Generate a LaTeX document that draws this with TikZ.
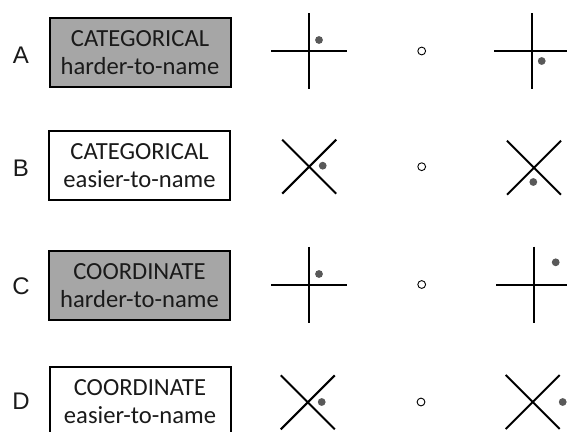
\documentclass[tikz,border=0pt]{standalone}
\usepackage{fontspec}
\setmainfont{Carlito}
\newfontfamily\letterfont{Liberation Sans}
\definecolor{boxgray}{HTML}{A6A6A6}
\definecolor{dotgray}{HTML}{595959}
\definecolor{inkc}{HTML}{1A1A1A}
\tikzset{
  rowletter/.style={font=\letterfont\fontsize{24}{28}\selectfont, inner sep=0pt, text=inkc},
  catbox/.style={draw=black, line width=2pt, minimum width=181pt, minimum height=69pt,
    inner sep=0pt, align=center, text=inkc, font=\fontsize{24.6}{30}\selectfont},
  hardbox/.style={catbox, fill=boxgray},
  easybox/.style={catbox, fill=white},
  crossline/.style={line width=2pt, black},
  gdot/.style={fill=dotgray},
  hollow/.style={draw=black, line width=0.9pt, fill=white}
}
\begin{document}
\begin{tikzpicture}[x=1pt, y=-1pt]
\useasboundingbox (0,0) rectangle (567,431);
% letters
\node[rowletter] (lA) at (21,55) {A};
\node[rowletter] (lB) at (21,168) {B};
\node[rowletter] (lC) at (21,286.5) {C};
\node[rowletter] (lD) at (21,401.7) {D};
% boxes
\node[hardbox] (bA) at (140,52.3) {\raisebox{-2pt}{CATEGORICAL}\\harder-to-name};
\node[easybox] (bB) at (139.5,165.5) {\raisebox{-2pt}{CATEGORICAL}\\easier-to-name};
\node[hardbox] (bC) at (139.5,285.5) {\raisebox{-2pt}{COORDINATE}\\harder-to-name};
\node[easybox] (bD) at (140,401.5) {\raisebox{-2pt}{COORDINATE}\\easier-to-name};
% cross centres
\coordinate (pA1) at (309.4,51);
\coordinate (pA2) at (532,51.3);
\coordinate (pB1) at (309.2,166.7);
\coordinate (pB2) at (534,167.7);
\coordinate (pC1) at (309.3,284.8);
\coordinate (pC2) at (534,284.5);
\coordinate (pD1) at (307.8,402.3);
\coordinate (pD2) at (532.7,402);
% plus crosses
\foreach \p in {pA1,pA2,pC1,pC2}{
  \draw[crossline] ([shift={(-38,0)}]\p) -- ([shift={(38,0)}]\p);
  \draw[crossline] ([shift={(0,-38)}]\p) -- ([shift={(0,38)}]\p);
}
% diagonal crosses
\foreach \p in {pB1,pB2,pD1,pD2}{
  \draw[crossline] ([shift={(-27,-27)}]\p) -- ([shift={(27,27)}]\p);
  \draw[crossline] ([shift={(-27,27)}]\p) -- ([shift={(27,-27)}]\p);
}
% dots
\fill[gdot] (319,40) circle (3.9pt);
\fill[gdot] (541.7,61) circle (3.9pt);
\fill[gdot] (322.7,165.7) circle (3.9pt);
\fill[gdot] (533.3,182) circle (3.9pt);
\fill[gdot] (319,274) circle (3.9pt);
\fill[gdot] (555.7,262.3) circle (3.9pt);
\fill[gdot] (321.7,402) circle (3.9pt);
\fill[gdot] (562.7,402) circle (3.9pt);
% hollow circles
\draw[hollow] (421.7,51) circle (3.9pt);
\draw[hollow] (421.7,166.7) circle (3.9pt);
\draw[hollow] (421.7,284.5) circle (3.9pt);
\draw[hollow] (421,402) circle (3.9pt);
\end{tikzpicture}
\end{document}
